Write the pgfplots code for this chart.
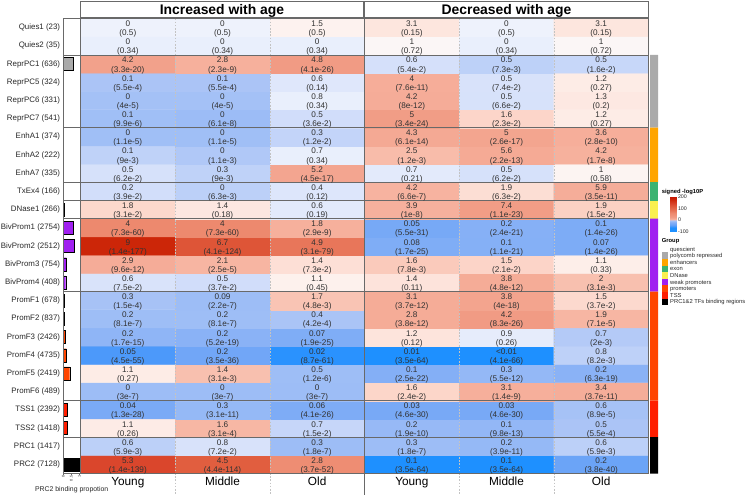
\documentclass[border=0pt]{standalone}
\usepackage{fontspec}
\setmainfont{Liberation Sans}
\usepackage{pgfplots}
\usepackage{pgfplotstable}
\pgfplotsset{compat=1.18}
\pgfkeys{/pgf/number format/assume math mode=true}

\definecolor{txt}{RGB}{50,50,50}
\definecolor{lab}{RGB}{40,40,40}
\definecolor{sep}{RGB}{105,105,105}
\definecolor{dashc}{RGB}{195,195,195}
\definecolor{cPC}{RGB}{170,170,170}
\definecolor{cEnh}{RGB}{255,165,0}
\definecolor{cEx}{RGB}{60,179,113}
\definecolor{cDN}{RGB}{250,240,80}
\definecolor{cWP}{RGB}{160,32,240}
\definecolor{cPr}{RGB}{255,69,0}
\definecolor{cTSS}{RGB}{255,30,0}

\newcommand{\cellfont}{\fontsize{8.2}{9}\selectfont}

% positions = signed -log10P + 100 (meta range -100 .. 200)
\pgfplotsset{
  colormap={hm}{
    rgb255(0)=(30,144,255)
    rgb255(37)=(30,144,255)
    rgb255(42)=(50,148,253)
    rgb255(46)=(78,154,250)
    rgb255(61)=(108,164,247)
    rgb255(72)=(122,170,246)
    rgb255(82)=(138,178,246)
    rgb255(90)=(150,185,246)
    rgb255(95)=(160,191,246)
    rgb255(96.7)=(170,196,246)
    rgb255(97.9)=(190,209,248)
    rgb255(98.6)=(210,222,250)
    rgb255(99.2)=(224,232,251)
    rgb255(99.7)=(238,242,252)
    rgb255(100)=(250,250,252)
    rgb255(100.3)=(253,242,239)
    rgb255(100.8)=(253,230,223)
    rgb255(101.6)=(252,214,202)
    rgb255(102.5)=(248,192,175)
    rgb255(103.5)=(247,183,164)
    rgb255(109)=(246,175,155)
    rgb255(120)=(242,160,138)
    rgb255(125)=(241,155,132)
    rgb255(159)=(237,137,110)
    rgb255(179)=(232,118,90)
    rgb255(214)=(225,94,62)
    rgb255(239)=(218,70,44)
    rgb255(277)=(204,38,8)
    rgb255(300)=(195,20,0)
  }
}

% x: column (0-2 increased Young/Middle/Old, 3-5 decreased Young/Middle/Old)
% y: row (0 = PRC2 at bottom ... 24 = Quies1 at top)
% s: signed -log10P, v: enrichment, p: p-value
\pgfplotstableread{
x y s v p
0 0 138.85 5.3 (1.4e-139)
1 0 113.36 4.5 (4.4e-114)
2 0 51.43 2.8 (3.7e-52)
3 0 -63.46 0.1 (3.5e-64)
4 0 -63.46 0.1 (3.5e-64)
5 0 -39.42 0.2 (3.8e-40)
0 1 -2.23 0.6 (5.9e-3)
1 1 -1.14 0.8 (7.2e-2)
2 1 -6.74 0.3 (1.8e-7)
3 1 -6.74 0.3 (1.8e-7)
4 1 -10.41 0.2 (3.9e-11)
5 1 -2.23 0.6 (5.9e-3)
0 2 0.59 1.1 (0.26)
1 2 3.51 1.6 (3.1e-4)
2 2 -1.82 0.7 (1.5e-2)
3 2 -9.72 0.2 (1.9e-10)
4 2 -12.01 0.1 (9.8e-13)
5 2 -3.26 0.5 (5.5e-4)
0 3 -27.89 0.04 (1.3e-28)
1 3 -10.51 0.3 (3.1e-11)
2 3 -25.39 0.06 (4.1e-26)
3 3 -29.34 0.03 (4.6e-30)
4 3 -29.34 0.03 (4.6e-30)
5 3 -4.05 0.6 (8.9e-5)
0 4 -6.52 0 (3e-7)
1 4 -6.52 0 (3e-7)
2 4 -6.52 0 (3e-7)
3 4 1.62 1.6 (2.4e-2)
4 4 8.85 3.1 (1.4e-9)
5 4 10.43 3.4 (3.7e-11)
0 5 0.57 1.1 (0.27)
1 5 2.51 1.4 (3.1e-3)
2 5 -5.92 0.5 (1.2e-6)
3 5 -21.60 0.1 (2.5e-22)
4 5 -11.26 0.3 (5.5e-12)
5 5 -18.20 0.2 (6.3e-19)
0 6 -54.35 0.05 (4.5e-55)
1 6 -35.46 0.2 (3.5e-36)
2 6 -60.06 0.02 (8.7e-61)
3 6 -63.46 0.01 (3.5e-64)
4 6 -65.39 <0.01 (4.1e-66)
5 6 -2.09 0.8 (8.2e-3)
0 7 -14.77 0.2 (1.7e-15)
1 7 -18.28 0.2 (5.2e-19)
2 7 -24.72 0.07 (1.9e-25)
3 7 0.92 1.2 (0.12)
4 7 -0.59 0.9 (0.26)
5 7 -2.70 0.7 (2e-3)
0 8 -6.09 0.2 (8.1e-7)
1 8 -6.09 0.2 (8.1e-7)
2 8 -3.38 0.4 (4.2e-4)
3 8 11.42 2.8 (3.8e-12)
4 8 25.08 4.2 (8.3e-26)
5 8 4.15 1.9 (7.1e-5)
0 9 -3.82 0.3 (1.5e-4)
1 9 -6.66 0.09 (2.2e-7)
2 9 2.32 1.7 (4.8e-3)
3 9 11.43 3.1 (3.7e-12)
4 9 17.40 3.8 (4e-18)
5 9 1.43 1.5 (3.7e-2)
0 10 -1.12 0.6 (7.5e-2)
1 10 -1.43 0.5 (3.7e-2)
2 10 0.35 1.1 (0.45)
3 10 0.96 1.4 (0.11)
4 10 11.32 3.8 (4.8e-12)
5 10 2.51 2 (3.1e-3)
0 11 11.02 2.9 (9.6e-12)
1 11 4.60 2.1 (2.5e-5)
2 11 1.14 1.4 (7.3e-2)
3 11 2.11 1.6 (7.8e-3)
4 11 1.68 1.5 (2.1e-2)
5 11 0.48 1.1 (0.33)
0 12 176.85 9 (1.4e-177)
1 12 123.39 6.7 (4.1e-124)
2 12 78.51 4.9 (3.1e-79)
3 12 -24.77 0.08 (1.7e-25)
4 12 -20.96 0.1 (1.1e-21)
5 12 -25.85 0.07 (1.4e-26)
0 13 59.14 4 (7.3e-60)
1 13 59.14 4 (7.3e-60)
2 13 8.54 1.8 (2.9e-9)
3 13 -30.26 0.05 (5.5e-31)
4 13 -20.62 0.2 (2.4e-21)
5 13 -25.85 0.1 (1.4e-26)
0 14 1.51 1.8 (3.1e-2)
1 14 0.74 1.4 (0.18)
2 14 -0.72 0.6 (0.19)
3 14 8.00 3.9 (1e-8)
4 14 22.96 7.4 (1.1e-23)
5 14 1.82 1.9 (1.5e-2)
0 15 -1.41 0.2 (3.9e-2)
1 15 -2.20 0 (6.3e-3)
2 15 -0.92 0.4 (0.12)
3 15 6.18 4.2 (6.6e-7)
4 15 1.20 1.9 (6.3e-2)
5 15 10.46 5.9 (3.5e-11)
0 16 -1.21 0.5 (6.2e-2)
1 16 -2.05 0.3 (9e-3)
2 16 16.35 5.2 (4.5e-17)
3 16 -0.68 0.7 (0.21)
4 16 -1.21 0.5 (6.2e-2)
5 16 0.24 1 (0.58)
0 17 -2.05 0.1 (9e-3)
1 17 -2.96 0 (1.1e-3)
2 17 -0.47 0.7 (0.34)
3 17 2.92 2.5 (1.2e-3)
4 17 12.66 5.6 (2.2e-13)
5 17 7.77 4.2 (1.7e-8)
0 18 -4.96 0 (1.1e-5)
1 18 -4.96 0 (1.1e-5)
2 18 -1.92 0.3 (1.2e-2)
3 18 13.21 4.3 (6.1e-14)
4 18 16.59 5 (2.6e-17)
5 18 9.55 3.6 (2.8e-10)
0 19 -5.00 0.1 (9.9e-6)
1 19 -7.21 0 (6.1e-8)
2 19 -1.44 0.5 (3.6e-2)
3 19 23.47 5 (3.4e-24)
4 19 1.64 1.6 (2.3e-2)
5 19 0.57 1.2 (0.27)
0 20 -4.40 0 (4e-5)
1 20 -4.40 0 (4e-5)
2 20 -0.47 0.8 (0.34)
3 20 11.10 4.2 (8e-12)
4 20 -1.18 0.5 (6.6e-2)
5 20 0.70 1.3 (0.2)
0 21 -3.26 0.1 (5.5e-4)
1 21 -3.26 0.1 (5.5e-4)
2 21 -0.85 0.6 (0.14)
3 21 10.12 4 (7.6e-11)
4 21 -1.13 0.5 (7.4e-2)
5 21 0.57 1.2 (0.27)
0 22 19.48 4.2 (3.3e-20)
1 22 8.64 2.8 (2.3e-9)
2 22 25.39 4.8 (4.1e-26)
3 22 -1.27 0.6 (5.4e-2)
4 22 -2.14 0.5 (7.3e-3)
5 22 -1.80 0.5 (1.6e-2)
0 23 -0.47 0 (0.34)
1 23 -0.47 0 (0.34)
2 23 -0.47 0 (0.34)
3 23 0.14 1 (0.72)
4 23 -0.47 0 (0.34)
5 23 0.14 1 (0.72)
0 24 -0.30 0 (0.5)
1 24 -0.30 0 (0.5)
2 24 0.30 1.5 (0.5)
3 24 0.82 3.1 (0.15)
4 24 -0.30 0 (0.5)
5 24 0.82 3.1 (0.15)
}\cells

\begin{document}
\begin{tikzpicture}
\useasboundingbox (0pt,0pt) rectangle (746pt,496pt);

% ---------- left: PRC2 binding proportion ----------
\begin{axis}[name=bar, at={(63.3pt,22.5pt)}, anchor=south west, scale only axis,
  width=17.2pt, height=455pt, xbar, xmin=0, xmax=1.07, ymin=-0.5, ymax=24.5,
  enlargelimits=false, bar width=0.72, axis line style={draw=none},
  ytick={0,...,24},
  yticklabels={PRC2 (7128),PRC1 (1417),TSS2 (1418),TSS1 (2392),PromF6 (489),PromF5 (2419),PromF4 (4735),PromF3 (2426),PromF2 (837),PromF1 (678),BivProm4 (408),BivProm3 (754),BivProm2 (2512),BivProm1 (2754),DNase1 (266),TxEx4 (166),EnhA7 (335),EnhA2 (222),EnhA1 (374),ReprPC7 (541),ReprPC6 (331),ReprPC5 (324),ReprPC1 (636),Quies2 (35),Quies1 (23)},
  ytick style={draw=none},
  yticklabel style={font=\fontsize{7.9}{9}\selectfont, text=lab, inner sep=1.5pt},
  xtick={0,0.5,1}, xticklabels={0,0.5,1}, xtick pos=left, xtick align=outside,
  major tick length=1.5pt, xtick style={sep, line width=0.3pt},
  xticklabel style={rotate=90, anchor=east, font=\fontsize{3.8}{4}\selectfont, inner sep=0.6pt, text=lab},
]
\addplot[bar shift=0pt, fill=cPC, draw=black, line width=0.3pt] coordinates {(0.6,22)};
\addplot[bar shift=0pt, fill=cDN, draw=black, line width=0.3pt] coordinates {(0.03,14)};
\addplot[bar shift=0pt, fill=cWP, draw=black, line width=0.3pt] coordinates {(0.59,13) (0.67,12) (0.19,11) (0.15,10)};
\addplot[bar shift=0pt, fill=cPr, draw=black, line width=0.3pt] coordinates {(0.03,9) (0.05,8) (0.13,7) (0.19,6) (0.40,5) (0.02,4)};
\addplot[bar shift=0pt, fill=cTSS, draw=black, line width=0.3pt] coordinates {(0.27,3) (0.25,2)};
\addplot[bar shift=0pt, fill=black, draw=black, line width=0.3pt] coordinates {(1.0,0)};
\end{axis}

% ---------- right: group annotation ----------
\begin{axis}[at={(650pt,22.5pt)}, anchor=south west, scale only axis,
  width=8pt, height=455pt, xbar, xmin=0, xmax=1, ymin=-0.5, ymax=24.5,
  enlargelimits=false, bar width=1, hide axis]
\addplot[bar shift=0pt, fill=cPC, draw=none] coordinates {(1,22) (1,21) (1,20) (1,19)};
\addplot[bar shift=0pt, fill=cEnh, draw=none] coordinates {(1,18) (1,17) (1,16)};
\addplot[bar shift=0pt, fill=cEx, draw=none] coordinates {(1,15)};
\addplot[bar shift=0pt, fill=cDN, draw=none] coordinates {(1,14)};
\addplot[bar shift=0pt, fill=cWP, draw=none] coordinates {(1,13) (1,12) (1,11) (1,10)};
\addplot[bar shift=0pt, fill=cPr, draw=none] coordinates {(1,9) (1,8) (1,7) (1,6) (1,5) (1,4)};
\addplot[bar shift=0pt, fill=cTSS, draw=none] coordinates {(1,3) (1,2)};
\addplot[bar shift=0pt, fill=black, draw=none] coordinates {(1,1) (1,0)};
\end{axis}

% ---------- heatmap ----------
\begin{axis}[name=hm, at={(80.5pt,22.5pt)}, anchor=south west, scale only axis,
  width=568pt, height=455pt, xmin=-0.5, xmax=5.5, ymin=-0.5, ymax=24.5,
  enlargelimits=false, clip=false, axis line style={draw=none},
  xtick=\empty, ytick=\empty,
  colormap name=hm, point meta min=-100, point meta max=200,
  colorbar,
  colorbar style={
    at={(parent axis.north east)}, anchor=north west,
    xshift=13.2pt, yshift=-178.2pt,
    scale only axis, width=6.6pt, height=35pt,
    ytick={-100,0,100,200}, yticklabel pos=right,
    yticklabel style={font=\fontsize{5.3}{6}\selectfont, text=lab, inner sep=1pt},
    major tick length=0pt, axis line style={draw=none}, ytick style={draw=none},
  },
]
\addplot[matrix plot*, mesh/cols=6, point meta=explicit] table[x=x, y=y, meta=s]{\cells};
\addplot[only marks, mark=none, point meta=explicit symbolic,
  nodes near coords={\pgfplotspointmeta}, nodes near coords align={anchor=base},
  every node near coord/.append style={font=\cellfont, text=txt, inner sep=0pt}]
  table[x=x, y expr=\thisrow{y}+0.055, meta=v]{\cells};
\addplot[only marks, mark=none, point meta=explicit symbolic,
  nodes near coords={\pgfplotspointmeta}, nodes near coords align={anchor=base},
  every node near coord/.append style={font=\cellfont, text=txt, inner sep=0pt}]
  table[x=x, y expr=\thisrow{y}-0.45, meta=p]{\cells};

\pgfplotsinvokeforeach{0.5,1.5,3.5,4.5}{
  \draw[dashc, line width=0.5pt, dash pattern=on 1.6pt off 1.6pt] (axis cs:#1,24.5) -- ([yshift=-21pt]axis cs:#1,-0.5);
}
\pgfplotsinvokeforeach{22.5,18.5,15.5,14.5,13.5,9.5,3.5,1.5}{
  \draw[sep, line width=0.7pt] ([xshift=-17.2pt]axis cs:-0.5,#1) -- (axis cs:5.5,#1);
}
\draw[sep, line width=0.8pt] ([xshift=-17.2pt]axis cs:-0.5,24.5) rectangle (axis cs:5.5,-0.5);
\draw[sep, line width=0.8pt] (axis cs:-0.5,24.5) -- (axis cs:-0.5,-0.5);
\draw[sep, line width=0.9pt] (axis cs:2.5,24.5) -- ([yshift=-21pt]axis cs:2.5,-0.5);

\node[anchor=base, font=\fontsize{11.8}{12}\selectfont] at ([yshift=-11.8pt]axis cs:0,-0.5) {Young};
\node[anchor=base, font=\fontsize{11.8}{12}\selectfont] at ([yshift=-11.8pt]axis cs:1,-0.5) {Middle};
\node[anchor=base, font=\fontsize{11.8}{12}\selectfont] at ([yshift=-11.8pt]axis cs:2,-0.5) {Old};
\node[anchor=base, font=\fontsize{11.8}{12}\selectfont] at ([yshift=-11.8pt]axis cs:3,-0.5) {Young};
\node[anchor=base, font=\fontsize{11.8}{12}\selectfont] at ([yshift=-11.8pt]axis cs:4,-0.5) {Middle};
\node[anchor=base, font=\fontsize{11.8}{12}\selectfont] at ([yshift=-11.8pt]axis cs:5,-0.5) {Old};
\end{axis}

% ---------- headers ----------
\draw[sep, line width=0.8pt, fill=white] (80.5pt,479pt) rectangle (363.5pt,495pt);
\draw[sep, line width=0.8pt, fill=white] (364.5pt,479pt) rectangle (648.5pt,495pt);
\node[anchor=base, inner sep=0pt, font=\bfseries\fontsize{13.9}{14}\selectfont] at (222pt,481.7pt) {Increased with age};
\node[anchor=base, inner sep=0pt, font=\bfseries\fontsize{13.9}{14}\selectfont] at (506.5pt,481.7pt) {Decreased with age};

% ---------- bottom-left label ----------
\node[anchor=base, inner sep=0pt, font=\fontsize{6.9}{7}\selectfont, text=lab] at (71.7pt,4.6pt) {PRC2 binding propotion};

% ---------- legend ----------
\node[anchor=base west, inner sep=0pt, font=\bfseries\fontsize{5.8}{6}\selectfont] at (661.7pt,302.2pt) {signed -log10P};
\node[anchor=base west, inner sep=0pt, font=\bfseries\fontsize{5.8}{6}\selectfont] at (661.7pt,253.9pt) {Group};
\foreach \k/\c/\t in {0/white/quescient,1/cPC/polycomb repressed,2/cEnh/enhancers,3/cEx/exon,4/cDN/DNase,5/cWP/weak promoters,6/cPr/promoters,7/cTSS/TSS,8/black/PRC1\&2 TFs binding regions}{
  \fill[\c] (661.7pt,{(250.3-6.6*\k)*1pt}) rectangle (668.3pt,{(243.7-6.6*\k)*1pt});
  \node[anchor=base west, inner sep=0pt, font=\fontsize{5.8}{6}\selectfont, text=lab] at (670pt,{(244.9-6.6*\k)*1pt}) {\t};
}
\end{tikzpicture}
\end{document}
